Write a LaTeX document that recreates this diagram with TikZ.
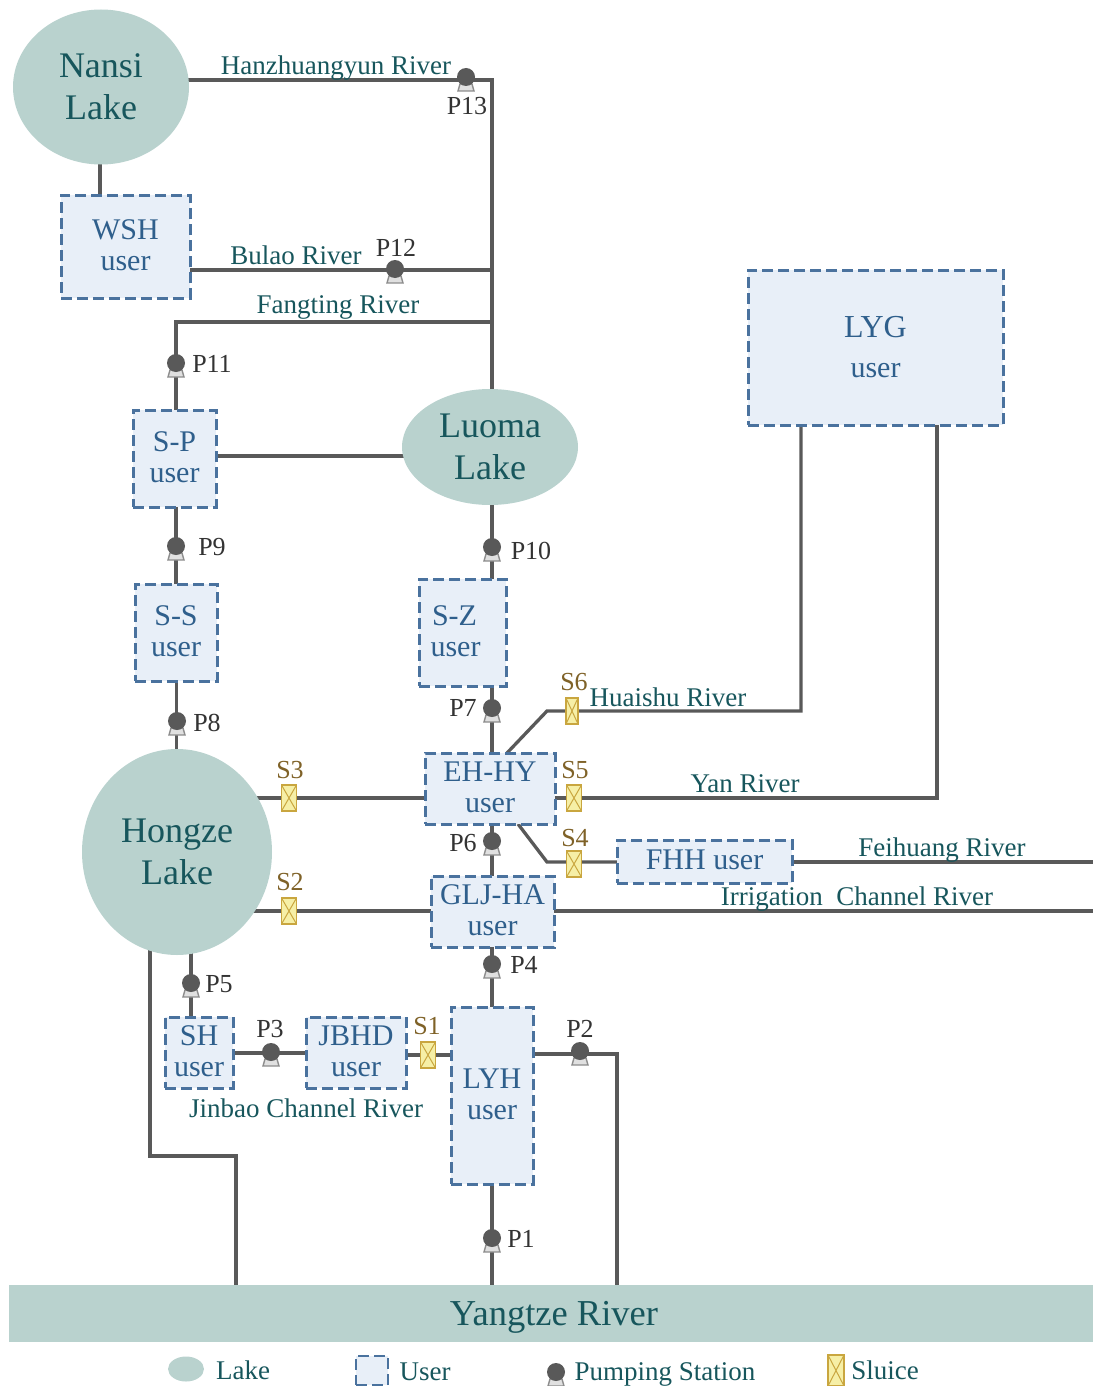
\documentclass[tikz,border=0pt]{standalone}
\usepackage{fontspec}
\setmainfont{Liberation Serif}
\usetikzlibrary{backgrounds,shapes.geometric}
\definecolor{lakec}{HTML}{B9D2CE}
\definecolor{tealt}{HTML}{17565C}
\definecolor{usert}{HTML}{2F5F8C}
\definecolor{userf}{HTML}{E8EFF8}
\definecolor{userd}{HTML}{4A729E}
\definecolor{linec}{HTML}{595959}
\definecolor{sluf}{HTML}{F6EFA6}
\definecolor{sluc}{HTML}{C9A63F}
\definecolor{slut}{HTML}{7F6228}
\tikzset{
 x=1pt,y=-1pt,
 lake/.style={ellipse,fill=lakec,inner sep=0pt,text=tealt,align=center,font=\fontsize{36}{42.5}\selectfont},
 userbox/.style={draw=userd,fill=userf,line width=3pt,dash pattern=on 11pt off 5pt,inner sep=0pt,text=usert,align=center,font=\fontsize{30}{30.5}\selectfont},
 conn/.style={draw=linec,line width=3.3pt,line join=miter},
 pumpc/.style={circle,fill=linec,minimum size=18pt,inner sep=0pt},
 pumpb/.style={draw=black!45,fill=black!12,line width=1.4pt},
 sluice/.style={rectangle,draw=sluc,fill=sluf,line width=1.4pt,inner sep=0pt,minimum width=15pt,minimum height=26pt,
   path picture={\draw[sluc,line width=1pt] (path picture bounding box.north west)--(path picture bounding box.south east) (path picture bounding box.north east)--(path picture bounding box.south west);}},
 river/.style={text=tealt,font=\fontsize{27}{30}\selectfont,inner sep=0pt},
 plab/.style={text=black!80,font=\fontsize{26}{30}\selectfont,inner sep=0pt},
 slab/.style={text=slut,font=\fontsize{26}{30}\selectfont,inner sep=0pt},
}
\newcommand{\pumphere}[3]{%
 \draw[pumpb] (#2-6,#3+7) -- (#2+6,#3+7) -- (#2+8,#3+14) -- (#2-8,#3+14) -- cycle;
 \node[pumpc] (#1) at (#2,#3) {};}
\newcommand{\usernode}[7]{\node[userbox,minimum width=#4pt,minimum height=#5pt] (#1) at (#2,#3) {#6\\#7\rule[-3pt]{0pt}{3pt}};}
\begin{document}
\begin{tikzpicture}
\useasboundingbox (0,0) rectangle (1093,1386);
% lakes
\node[lake,minimum width=176pt,minimum height=155pt] (nansi) at (101,87) {Nansi\\Lake};
\node[lake,minimum width=176pt,minimum height=116pt] (luoma) at (490,447) {Luoma\\Lake};
\node[lake,minimum width=190pt,minimum height=206pt] (hongze) at (177,852) {Hongze\\Lake};
\node[fill=lakec,inner sep=0pt,minimum width=1084pt,minimum height=57pt,text=tealt,font=\fontsize{35}{42}\selectfont] (yangtze) at (551,1313.5) {};
\node[text=tealt,font=\fontsize{36.5}{42}\selectfont,inner sep=0pt] (yangtzet) at (554,1317) {Yangtze River};
% users
\usernode{wsh}{125.5}{246.5}{129}{103}{WSH}{user}
\usernode{sp}{174.5}{458.5}{83}{97}{S-P}{user}
\usernode{ss}{176}{632.5}{82}{97}{S-S}{user}
\usernode{sz}{462.5}{632.5}{87}{107}{S-Z\rule{16pt}{0pt}}{user\rule{14pt}{0pt}}
\usernode{ehhy}{490}{788.5}{130}{71}{EH-HY}{user}
\usernode{gljha}{492.5}{911.5}{123}{71}{GLJ-HA}{user}
\usernode{lyh}{492}{1095.5}{82}{177}{LYH}{user}
\usernode{jbhd}{356}{1052.5}{100}{71}{JBHD}{user}
\usernode{sh}{199}{1052.5}{68}{71}{SH}{user}
\node[userbox,minimum width=175pt,minimum height=43pt] (fhh) at (704.5,861.5) {FHH user\rule[-3pt]{0pt}{3pt}};
\node[userbox,minimum width=255pt,minimum height=155pt,font=\fontsize{32}{40}\selectfont] (lyg) at (875.5,347.5) {LYG\\\fontsize{30}{40}\selectfont user};
% pumps
\pumphere{p13}{466}{77}
\pumphere{p12}{395}{269}
\pumphere{p11}{176}{363}
\pumphere{p9}{176}{546}
\pumphere{p10}{492}{547}
\pumphere{p8}{177}{721}
\pumphere{p7}{492}{708}
\pumphere{p6}{492}{841}
\pumphere{p4}{492}{964}
\pumphere{p5}{191}{983}
\pumphere{p3}{271}{1052}
\pumphere{p2}{580}{1051}
\pumphere{p1}{492}{1238}
% sluices
\node[sluice] (s1) at (428,1055) {};
\node[sluice] (s2) at (289,911) {};
\node[sluice] (s3) at (289,798) {};
\node[sluice] (s4) at (574,864) {};
\node[sluice] (s5) at (574,798) {};
\node[sluice,minimum width=12pt] (s6) at (572,711) {};
% free ends and bends
\coordinate (jn) at (492,80);
\coordinate (jb) at (492,270);
\coordinate (jf) at (492,322);
\coordinate (cf) at (176,322);
\coordinate (h1) at (547,711);
\coordinate (h0) at (507,753);
\coordinate (h2) at (801,711);
\coordinate (y1) at (937,798);
\coordinate (f0) at (518,824);
\coordinate (f1) at (547,862);
\coordinate (f2) at (1093,862);
\coordinate (i2) at (1093,911);
\coordinate (c2) at (617,1054);
\coordinate (c2b) at (617,1285);
\coordinate (k0) at (150,950);
\coordinate (k1) at (150,1156);
\coordinate (k2) at (236,1156);
\coordinate (k3) at (236,1285);
\begin{pgfonlayer}{background}
\draw[conn] (nansi.center |- jn) -- (jn) -- (jn |- luoma.center);
\draw[conn] (100,87) -- (100,246);
\draw[conn] (wsh.center |- jb) -- (jb);
\draw[conn] (jf) -- (cf) -- (cf |- sp.center);
\draw[conn] (sp.center |- 0,456) -- (luoma.center |- 0,456);
\draw[conn] (176,458) -- (176,632);
\draw[conn] (176.5,632) -- (176.5,852);
\draw[conn] (492,447) -- (492,632);
\draw[conn] (492,632) -- (492,788);
\draw[conn] (492,788) -- (492,1095);
\draw[conn] (hongze.center |- s3) -- (s3) -- (ehhy.center |- s3);
\draw[conn] (hongze.center |- s2) -- (s2) -- (gljha.center |- s2);
\draw[conn] (ehhy.center |- s5) -- (s5) -- (y1) -- (y1 |- lyg.center);
\draw[conn] (h0) -- (h1) -- (s6) -- (h2) -- (h2 |- lyg.center);
\draw[conn] (f0) -- (f1) -- (s4 |- f1) -- (fhh.center |- f1);
\draw[conn] (fhh.center |- f2) -- (f2);
\draw[conn] (gljha.center |- i2) -- (i2);
\draw[conn] (lyh.center |- c2) -- (c2) -- (c2b);
\draw[conn] (lyh.center |- s1) -- (s1) -- (jbhd.center |- s1);
\draw[conn] (sh.center |- 0,1053) -- (jbhd.center |- 0,1053);
\draw[conn] (p5 |- hongze.center) -- (p5 |- sh.center);
\draw[conn] (lyh.center) -- (lyh.center |- yangtze.north);
\draw[conn] (k0) -- (k1) -- (k2) -- (k3);
\end{pgfonlayer}
% river labels
\node[river] (r1) at (336,68) {Hanzhuangyun River};
\node[river] (r2) at (296,255) {Bulao River};
\node[river] (r3) at (338,307) {Fangting River};
\node[river] (r4) at (668,697) {Huaishu River};
\node[river] (r5) at (745,784) {Yan River};
\node[river] (r6) at (942,850) {Feihuang River};
\node[river] (r7) at (857,899) {Irrigation\ \ Channel River};
\node[river] (r8) at (306,1108) {Jinbao Channel River};
% pump labels
\node[plab] (l13) at (467,106) {P13};
\node[plab] (l12) at (396,248) {P12};
\node[plab] (l11) at (212,364) {P11};
\node[plab] (l9) at (212,547) {P9};
\node[plab] (l10) at (531,551) {P10};
\node[plab] (l8) at (207,723) {P8};
\node[plab] (l7) at (463,708) {P7};
\node[plab] (l6) at (463,843) {P6};
\node[plab] (l4) at (524,965) {P4};
\node[plab] (l5) at (219,984) {P5};
\node[plab] (l3) at (270,1029) {P3};
\node[plab] (l2) at (580,1029) {P2};
\node[plab] (l1) at (521,1239) {P1};
% sluice labels
\node[slab] (t1) at (427,1026) {S1};
\node[slab] (t2) at (290,882) {S2};
\node[slab] (t3) at (290,770) {S3};
\node[slab] (t4) at (575,838) {S4};
\node[slab] (t5) at (575,770) {S5};
\node[slab] (t6) at (574,682) {S6};
% legend
\node[ellipse,fill=lakec,inner sep=0pt,minimum width=36pt,minimum height=25pt] (leglake) at (186,1369) {};
\node[river] (leglaket) at (243,1370) {Lake};
\node[userbox,minimum width=32pt,minimum height=29pt,line width=2.2pt] (leguser) at (372,1370.5) {};
\node[river] (legusert) at (425,1372) {User};
\pumphere{legpump}{556}{1372}
\node[river] (legpumpt) at (665,1374) {Pumping Station};
\node[sluice,minimum width=16pt,minimum height=31pt] (legsl) at (836,1370.5) {};
\node[river] (legslt) at (885,1370) {Sluice};
\end{tikzpicture}
\end{document}
